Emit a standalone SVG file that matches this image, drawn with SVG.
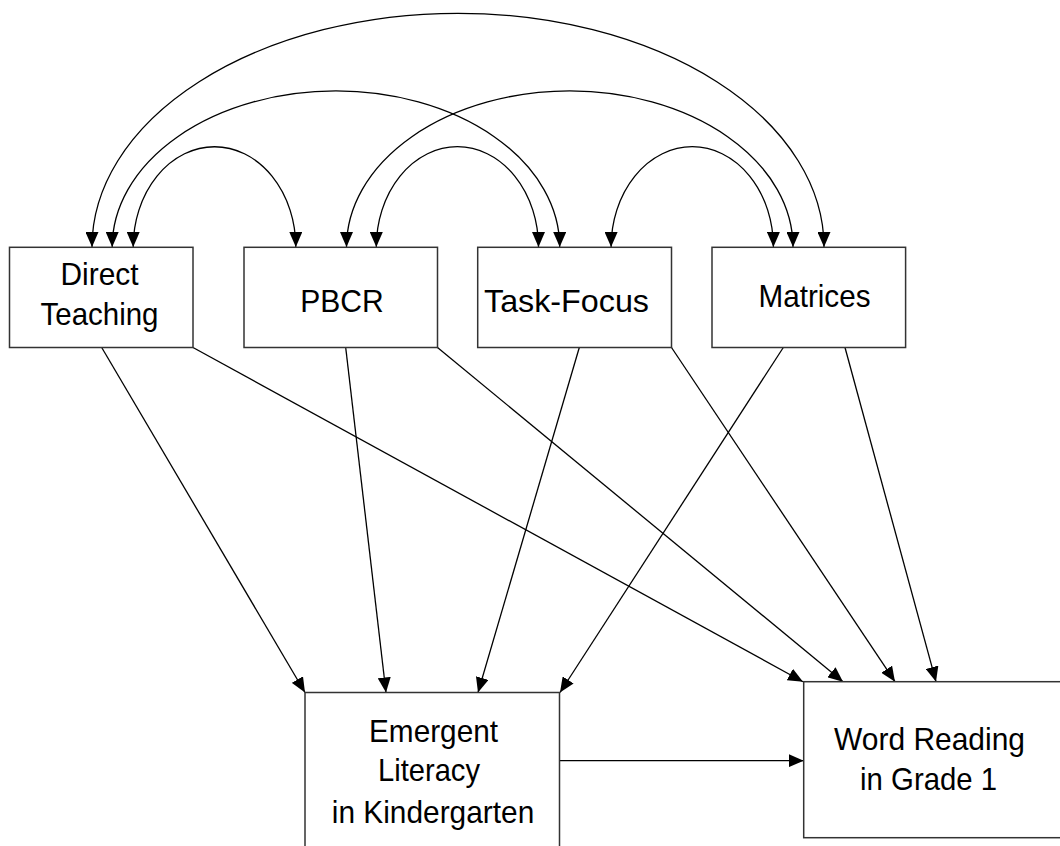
<svg xmlns="http://www.w3.org/2000/svg" width="1060" height="846" viewBox="0 0 1060 846">
  <style>
    .box { fill: #ffffff; stroke: #333333; stroke-width: 1.5; }
    .lbl { font-family: "Liberation Sans", Arial, sans-serif; font-size: 32px; fill: #000000; text-anchor: middle; }
    .path { fill: none; stroke: #000000; stroke-width: 1.3; marker-end: url(#head); }
    .cov { fill: none; stroke: #000000; stroke-width: 1.3; marker-start: url(#head); marker-end: url(#head); }
  </style>
  <defs>
    <marker id="head" viewBox="0 0 15 13" refX="15" refY="6.5" markerWidth="15" markerHeight="13" markerUnits="userSpaceOnUse" orient="auto-start-reverse">
      <path d="M0,0 L15,6.5 L0,13 z" fill="#000000"/>
    </marker>
  </defs>

  <rect width="1060" height="846" fill="#ffffff"/>

  <!-- connectors: correlations (arcs) and paths (straight arrows) -->
  <g id="connectors">
    <path class="cov" d="M92,247 A366,233.7 0 0 1 824,247"/>
    <path class="cov" d="M112.2,247 A223.7,156 0 0 1 559.7,247"/>
    <path class="cov" d="M346.5,247 A223.2,156 0 0 1 793,247"/>
    <path class="cov" d="M133.2,247 A81.3,100.3 0 0 1 295.8,247"/>
    <path class="cov" d="M376.3,247 A81.1,100.3 0 0 1 538.5,247"/>
    <path class="cov" d="M611.1,247 A81.15,100.3 0 0 1 773.4,247"/>

    <line class="path" x1="101.7" y1="347.5" x2="305" y2="692.5"/>
    <line class="path" x1="193" y1="347.5" x2="803" y2="681.7"/>
    <line class="path" x1="345.7" y1="347.5" x2="386" y2="692.5"/>
    <line class="path" x1="437.5" y1="347.5" x2="843" y2="681.7"/>
    <line class="path" x1="579.3" y1="347.5" x2="478" y2="692.5"/>
    <line class="path" x1="671.5" y1="347.5" x2="895" y2="681.7"/>
    <line class="path" x1="783.3" y1="347.5" x2="560" y2="692.5"/>
    <line class="path" x1="845" y1="347.5" x2="936" y2="681.7"/>
    <line class="path" x1="559.5" y1="760.7" x2="803.7" y2="760.7"/>
  </g>

  <g id="direct-teaching">
    <rect class="box" x="9.5" y="247.3" width="183.5" height="100.2"/>
    <text class="lbl" x="99.5" y="285" textLength="78" lengthAdjust="spacingAndGlyphs">Direct</text>
    <text class="lbl" x="99.5" y="325" textLength="118" lengthAdjust="spacingAndGlyphs">Teaching</text>
  </g>

  <g id="pbcr">
    <rect class="box" x="244" y="247.3" width="193.5" height="100.2"/>
    <text class="lbl" x="342" y="311.5" textLength="83.5" lengthAdjust="spacingAndGlyphs">PBCR</text>
  </g>

  <g id="task-focus">
    <rect class="box" x="477.7" y="247.3" width="193.8" height="100.2"/>
    <text class="lbl" x="566.5" y="311.5" textLength="165" lengthAdjust="spacingAndGlyphs">Task-Focus</text>
  </g>

  <g id="matrices">
    <rect class="box" x="712" y="247.3" width="193.6" height="100.2"/>
    <text class="lbl" x="814.5" y="306.7" textLength="112" lengthAdjust="spacingAndGlyphs">Matrices</text>
  </g>

  <g id="emergent-literacy">
    <rect class="box" x="305" y="692.5" width="254.5" height="200"/>
    <text class="lbl" x="433.5" y="741.7" textLength="129" lengthAdjust="spacingAndGlyphs">Emergent</text>
    <text class="lbl" x="429" y="780.7" textLength="102" lengthAdjust="spacingAndGlyphs">Literacy</text>
    <text class="lbl" x="433" y="822.7" textLength="202.5" lengthAdjust="spacingAndGlyphs">in Kindergarten</text>
  </g>

  <g id="word-reading">
    <rect class="box" x="803.7" y="681.7" width="300" height="156"/>
    <text class="lbl" x="929.5" y="749.5" textLength="191" lengthAdjust="spacingAndGlyphs">Word Reading</text>
    <text class="lbl" x="928.6" y="789.5" textLength="137" lengthAdjust="spacingAndGlyphs">in Grade 1</text>
  </g>
</svg>
